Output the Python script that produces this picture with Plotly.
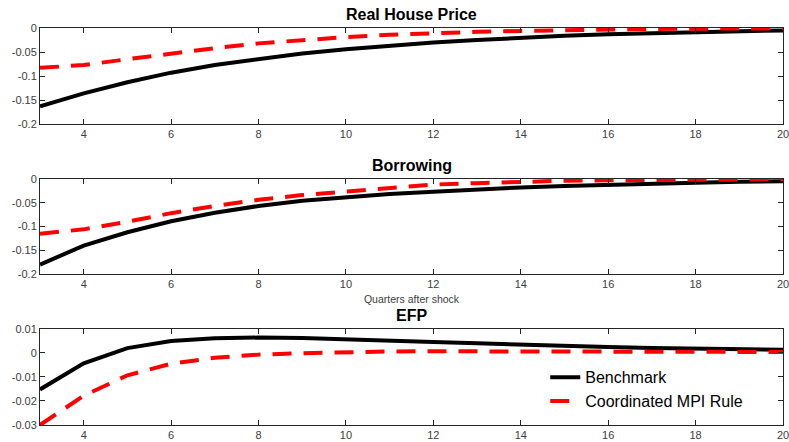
import plotly.graph_objects as go
from plotly.subplots import make_subplots

# Impulse responses, quarters 3..20 after the shock
quarters = list(range(3, 21))

house_benchmark = [-0.163, -0.136, -0.113, -0.093, -0.077, -0.064, -0.053, -0.044,
                   -0.036, -0.030, -0.025, -0.020, -0.016, -0.013, -0.011, -0.009,
                   -0.007, -0.005]
house_mpi = [-0.083, -0.077, -0.065, -0.053, -0.042, -0.032, -0.025, -0.019,
             -0.014, -0.010, -0.008, -0.006, -0.004, -0.003, -0.002, -0.0015,
             -0.001, -0.0008]

borrow_benchmark = [-0.180, -0.140, -0.112, -0.089, -0.071, -0.057, -0.046, -0.038,
                    -0.032, -0.027, -0.022, -0.018, -0.015, -0.012, -0.010, -0.008,
                    -0.006, -0.005]
borrow_mpi = [-0.115, -0.106, -0.090, -0.072, -0.057, -0.044, -0.034, -0.026,
              -0.018, -0.012, -0.009, -0.006, -0.004, -0.003, -0.002, -0.0015,
              -0.001, -0.0008]

efp_benchmark = [-0.0152, -0.0043, 0.0020, 0.0050, 0.0061, 0.0064, 0.0062, 0.0058,
                 0.0052, 0.0046, 0.0040, 0.0034, 0.0029, 0.0025, 0.0021, 0.0018,
                 0.0015, 0.0013]
efp_mpi = [-0.0300, -0.0178, -0.0093, -0.0045, -0.0020, -0.0007, -0.0001, 0.0004,
           0.0006, 0.0007, 0.0007, 0.0007, 0.0006, 0.0006, 0.0005, 0.0005,
           0.0004, 0.0004]

panel_titles = ["Real House Price", "Borrowing", "EFP"]
x_ticks = [4, 6, 8, 10, 12, 14, 16, 18, 20]
y_ticks_top = [-0.2, -0.15, -0.1, -0.05, 0]
y_ticklabels_top = ["-0.2", "-0.15", "-0.1", "-0.05", "0"]
y_ticks_efp = [-0.03, -0.02, -0.01, 0, 0.01]
y_ticklabels_efp = ["-0.03", "-0.02", "-0.01", "0", "0.01"]
series_names = ["Benchmark", "Coordinated MPI Rule"]
x_title = "Quarters after shock"

panels = [
    (house_benchmark, house_mpi, [-0.2, 0], y_ticks_top, y_ticklabels_top),
    (borrow_benchmark, borrow_mpi, [-0.2, 0], y_ticks_top, y_ticklabels_top),
    (efp_benchmark, efp_mpi, [-0.03, 0.01], y_ticks_efp, y_ticklabels_efp),
]

fig = make_subplots(rows=3, cols=1)

for i, (bench, mpi, yr, yt, ytl) in enumerate(panels, start=1):
    fig.add_trace(go.Scatter(x=quarters, y=bench, mode="lines",
                             line=dict(color="black", width=4),
                             name=series_names[0], showlegend=(i == 3),
                             cliponaxis=False),
                  row=i, col=1)
    fig.add_trace(go.Scatter(x=quarters, y=mpi, mode="lines",
                             line=dict(color="#ff0000", width=4, dash="19px,12px"),
                             name=series_names[1], showlegend=(i == 3),
                             cliponaxis=False),
                  row=i, col=1)
    fig.update_yaxes(range=yr, tickvals=yt, ticktext=ytl, row=i, col=1)

domains = [[0.758, 1.0], [0.380, 0.620], [0.0, 0.242]]
for i, d in enumerate(domains, start=1):
    fig.update_yaxes(domain=d, row=i, col=1)

axis_style = dict(showline=True, linecolor="#262626", linewidth=1, mirror="ticks",
                  ticks="inside", ticklen=5, tickcolor="#262626",
                  showgrid=False, zeroline=False, automargin=False,
                  ticklabeloverflow="allow",
                  tickfont=dict(family="Liberation Sans, Arial", size=11, color="#404040"))
fig.update_xaxes(range=[3, 20], tickvals=x_ticks, **axis_style)
fig.update_yaxes(**axis_style)
fig.update_xaxes(title=dict(text=x_title, standoff=6,
                            font=dict(family="Liberation Sans, Arial", size=10.5, color="#404040")),
                 row=2, col=1)

for title, d in zip(panel_titles, domains):
    fig.add_annotation(text="<b>%s</b>" % title, xref="paper", yref="paper",
                       x=0.5, y=d[1], yanchor="bottom", yshift=3, showarrow=False,
                       font=dict(family="Liberation Sans, Arial", size=16, color="black"))

fig.update_layout(
    width=789, height=442,
    margin=dict(l=40, r=6, t=28, b=17),
    paper_bgcolor="white", plot_bgcolor="white",
    legend=dict(x=0.68, y=0.09, xanchor="left", yanchor="middle",
                bgcolor="rgba(0,0,0,0)", borderwidth=0, tracegroupgap=0,
                font=dict(family="Liberation Sans, Arial", size=16, color="black")),
)

fig.write_html("out.html")
